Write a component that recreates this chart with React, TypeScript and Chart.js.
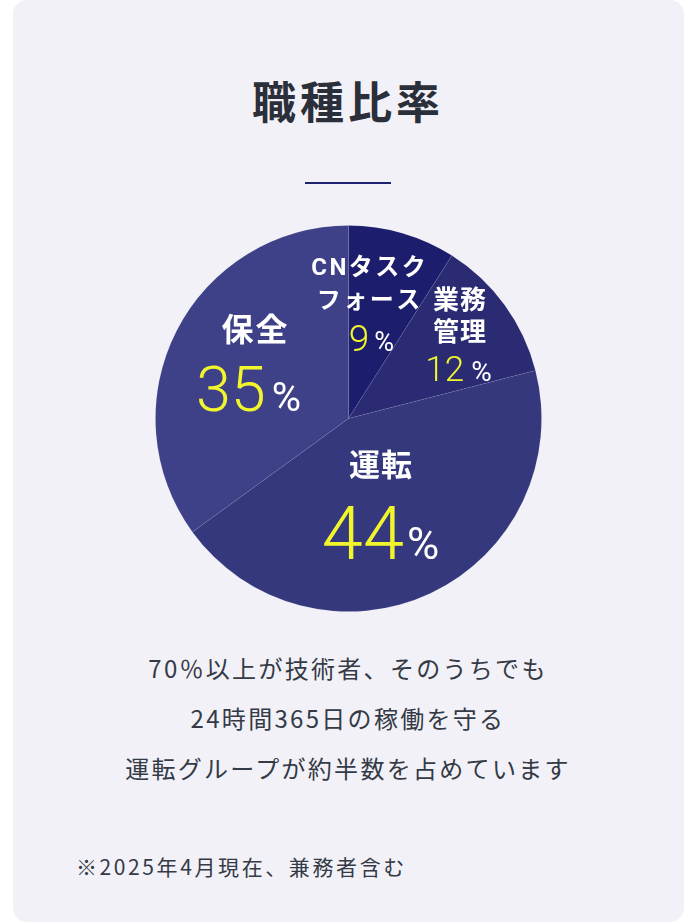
import React, { useEffect, useRef } from 'react';
import { Chart, PieController, ArcElement, type Plugin } from 'chart.js';

Chart.register(PieController, ArcElement);

// 職種比率 (2025年4月現在)
const categories = ['CNタスクフォース', '業務管理', '運転', '保全'];
const shares = [9, 12, 44, 35];
const nameLines = [['CNタスク', 'フォース'], ['業務', '管理'], ['運転'], ['保全']];
const sliceColors = ['#1c1d6c', '#2a2b73', '#36387d', '#3e4187'];

const bodyLines = [
  '70％以上が技術者、そのうちでも',
  '24時間365日の稼働を守る',
  '運転グループが約半数を占めています',
];
const footnote = '※2025年4月現在、兼務者含む';

// label placement, px relative to pie centre for a 193px radius
const labelLayout = [
  { x: 20, nameY: [-150, -117], nameFont: 24, nameSpacing: 2.5, valueX: 23, valueY: -68, numFont: 37, pctFont: 27, gap: 5 },
  { x: 111, nameY: [-116, -84], nameFont: 26, nameSpacing: 1, valueX: 110, valueY: -38, numFont: 35, pctFont: 28, gap: 7 },
  { x: 32, nameY: [50], nameFont: 31, nameSpacing: 1, valueX: 32, valueY: 140, numFont: 74, pctFont: 44, gap: 3 },
  { x: -94, nameY: [-86], nameFont: 32, nameSpacing: 2, valueX: -100, valueY: -8, numFont: 63, pctFont: 40, gap: 6 },
];

const YELLOW = '#f1f62c';
const JP = '"Noto Sans CJK JP", "Noto Sans", sans-serif';

const sliceLabels: Plugin<'pie'> = {
  id: 'sliceLabels',
  afterDatasetsDraw(chart) {
    const ctx = chart.ctx;
    const meta = chart.getDatasetMeta(0);
    const first = meta.data[0] as any;
    if (!first) return;
    const cx = first.x;
    const cy = first.y;
    const k = first.outerRadius / 193;
    ctx.save();
    meta.data.forEach((_, i) => {
      const l = labelLayout[i];
      ctx.fillStyle = '#ffffff';
      ctx.textAlign = 'center';
      ctx.textBaseline = 'middle';
      ctx.font = `bold ${l.nameFont}px Roboto, ${JP}`;
      (ctx as any).letterSpacing = `${l.nameSpacing}px`;
      nameLines[i].forEach((line, j) => {
        ctx.fillText(line, cx + l.x * k + l.nameSpacing / 2, cy + l.nameY[j] * k);
      });
      (ctx as any).letterSpacing = '0px';

      const num = String(shares[i]);
      ctx.textBaseline = 'alphabetic';
      ctx.textAlign = 'left';
      ctx.font = `300 ${l.numFont}px Roboto, sans-serif`;
      const numW = ctx.measureText(num).width;
      ctx.font = `400 ${l.pctFont}px Roboto, sans-serif`;
      const pctW = ctx.measureText('%').width;
      const total = numW + l.gap + pctW;
      const startX = cx + l.valueX * k - total / 2;
      const baseY = cy + l.valueY * k;
      ctx.font = `300 ${l.numFont}px Roboto, sans-serif`;
      ctx.fillStyle = YELLOW;
      ctx.fillText(num, startX, baseY);
      ctx.font = `400 ${l.pctFont}px Roboto, sans-serif`;
      ctx.fillStyle = '#ffffff';
      ctx.fillText('%', startX + numW + l.gap, baseY);
    });
    ctx.restore();
  },
};

const SharePie: React.FC = () => {
  const canvasRef = useRef<HTMLCanvasElement | null>(null);

  useEffect(() => {
    if (!canvasRef.current) return;
    const chart = new Chart(canvasRef.current, {
      type: 'pie',
      data: {
        labels: categories,
        datasets: [
          {
            data: shares,
            backgroundColor: sliceColors,
            borderColor: 'rgba(255,255,255,0.07)',
            borderWidth: 1,
          },
        ],
      },
      options: {
        responsive: false,
        maintainAspectRatio: false,
        animation: false,
        events: [],
        layout: { padding: 7 },
      },
      plugins: [sliceLabels],
    });
    return () => chart.destroy();
  }, []);

  return (
    <canvas
      ref={canvasRef}
      width={401}
      height={401}
      style={{ position: 'absolute', left: 148, top: 218, width: 401, height: 401 }}
    />
  );
};

export default function App() {
  return (
    <div style={{ position: 'absolute', left: 0, top: 0, width: 696, height: 924, background: '#ffffff', fontFamily: JP }}>
      <div
        style={{
          position: 'absolute',
          left: 13,
          top: 0,
          width: 671,
          height: 922,
          borderRadius: 14,
          background: '#f2f1f7',
        }}
      />
      <div
        style={{
          position: 'absolute',
          left: 0,
          top: 70,
          width: 696,
          textAlign: 'center',
          fontSize: 44,
          lineHeight: '60px',
          fontWeight: 700,
          letterSpacing: 4,
          color: '#2b2f3a',
        }}
      >
        職種比率
      </div>
      <div style={{ position: 'absolute', left: 305, top: 182, width: 86, height: 2, background: '#1e2070' }} />
      <SharePie />
      <div
        style={{
          position: 'absolute',
          left: 0,
          top: 643,
          width: 696,
          textAlign: 'center',
          fontSize: 24,
          lineHeight: '50px',
          letterSpacing: 2.3,
          color: '#343a46',
        }}
      >
        {bodyLines.map((t) => (
          <div key={t}>{t}</div>
        ))}
      </div>
      <div
        style={{
          position: 'absolute',
          left: 76,
          top: 851,
          fontSize: 21,
          lineHeight: '30px',
          letterSpacing: 2.6,
          color: '#343a46',
          whiteSpace: 'nowrap',
        }}
      >
        {footnote}
      </div>
    </div>
  );
}
